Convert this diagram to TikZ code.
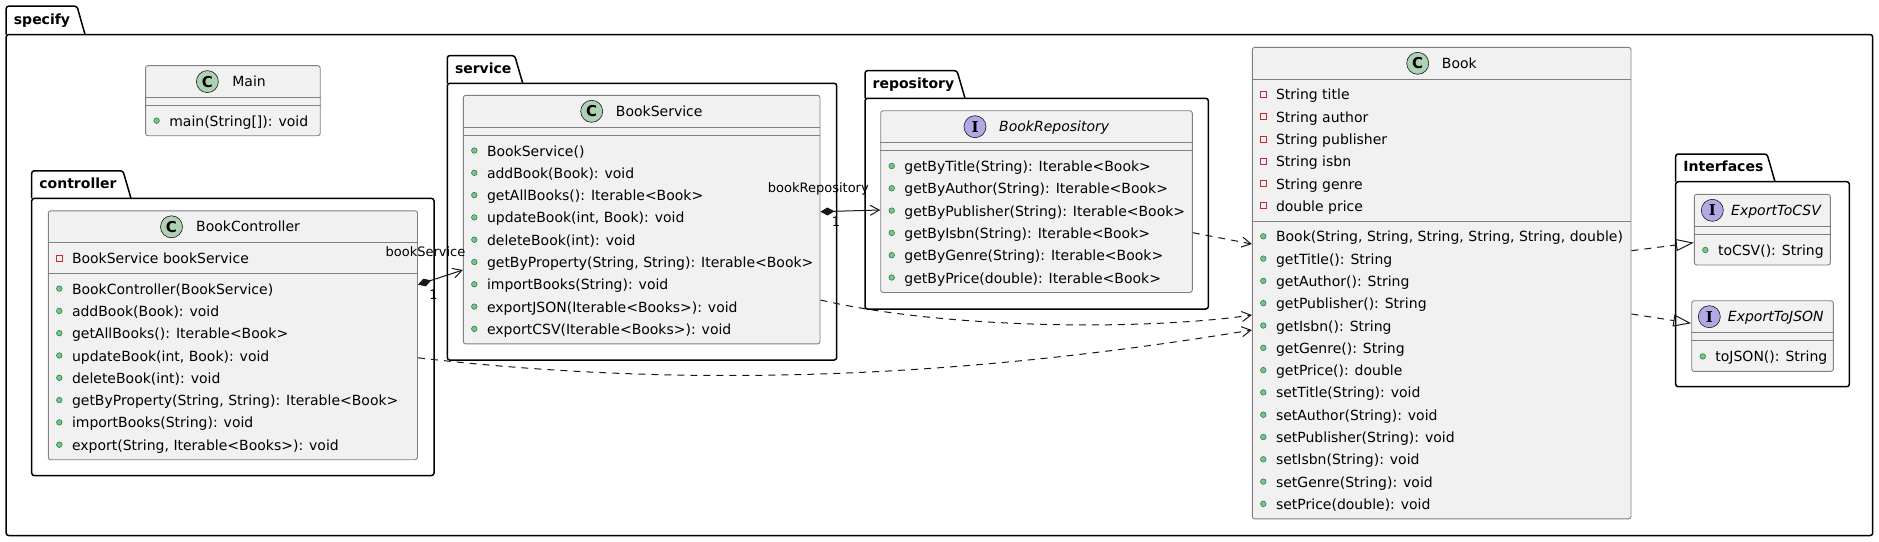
\documentclass[tikz,border=0pt]{standalone}
\usepackage{fontspec}
\setmainfont{DejaVu Sans}
\newfontfamily\spotserif{DejaVu Serif}
\usetikzlibrary{arrows.meta}
\definecolor{lc}{HTML}{181818}
\definecolor{cbord}{HTML}{808080}
\definecolor{classfill}{HTML}{F1F1F1}
\definecolor{cgreen}{HTML}{ADD1B2}
\definecolor{ipurple}{HTML}{B4A7E5}
\definecolor{pubfill}{HTML}{84BE84}
\definecolor{publine}{HTML}{038048}
\definecolor{privline}{HTML}{C82930}
\newcommand{\pubrow}[4]{%
  \fill[pubfill, draw=publine, line width=0.5pt] (#2+11,#3) circle (2.8pt);
  \node[member, anchor=base west] (#1) at (#2+23.5,#3+5.5) {#4};}
\newcommand{\privrow}[4]{%
  \draw[privline, line width=0.8pt] (#2+8,#3-3) rectangle (#2+14,#3+3);
  \node[member, anchor=base west] (#1) at (#2+23.5,#3+5.5) {#4};}
\newcommand{\pkgbox}[8]{%
  \draw[pkg] (#2,#4) -- (#2,#3) -- (#5-8,#3) -- (#5,#4);
  \draw[pkg] (#2,#4) rectangle (#6,#7);
  \node[pkgtitle, anchor=base west] (#1) at (#2+7.5,#4-10) {#8};}
\begin{document}
\begin{tikzpicture}[x=1pt,y=-1pt,
  classbox/.style={draw=cbord, fill=classfill, line width=0.9pt, rounded corners=2.5pt, inner sep=0pt},
  sepline/.style={draw=cbord, line width=0.9pt},
  member/.style={font=\fontsize{14}{16}\selectfont, inner sep=0pt, text=black},
  cname/.style={font=\fontsize{14}{16}\selectfont, inner sep=0pt, text=black},
  iname/.style={font=\fontsize{14}{16}\selectfont\itshape, inner sep=0pt, text=black},
  spot/.style={circle, draw=lc, line width=0.6pt, minimum size=22pt, inner sep=0pt, font=\fontsize{15}{15}\selectfont\bfseries},
  ispot/.style={spot, fill=ipurple, font=\fontsize{15}{15}\selectfont\spotserif\bfseries},
  pkg/.style={draw=black, line width=1.5pt, rounded corners=2.5pt},
  pkgtitle/.style={font=\fontsize{14}{16}\selectfont\bfseries, inner sep=0pt},
  rel/.style={draw=lc, line width=1pt},
  comp/.style={rel, {Diamond[length=14pt,width=8pt]}-{Straight Barb[length=9pt,width=10pt]}},
  dep/.style={rel, dash pattern=on 7pt off 6pt, -{Straight Barb[length=9pt,width=10pt]}},
  real/.style={rel, dash pattern=on 7pt off 6pt, -{Triangle[open,length=18pt,width=12pt]}},
  lbl/.style={font=\fontsize{13}{15}\selectfont, inner sep=0pt}
]
\useasboundingbox (0,0) rectangle (1879,541);
\fill[white] (0,0) rectangle (1879,541);

% packages
\pkgbox{pspecify}{6.2}{6.2}{34.5}{85}{1872.7}{535.5}{specify}
\pkgbox{pcontroller}{31.7}{170.8}{198.4}{131}{434}{475.5}{controller}
\pkgbox{pservice}{447.3}{55.6}{83.3}{522.7}{836.7}{360}{service}
\pkgbox{prepository}{865}{70.7}{98.3}{965}{1208.3}{309}{repository}
\pkgbox{pinterfaces}{1675.7}{154}{181.7}{1775}{1849.3}{386.7}{Interfaces}

% Main
\node[classbox, minimum width=174.6pt, minimum height=70.1pt] (main) at (232.9,100.65) {};
\draw[sepline] (main.west |- 0,97.6) -- (main.east |- 0,97.6);
\draw[sepline] (main.west |- 0,105.6) -- (main.east |- 0,105.6);
\node[spot, fill=cgreen] (mainC) at (207.4,81.6) {C};
\node[cname, anchor=base west] (mainN) at (232.2,86.6) {Main};
\pubrow{mainm0}{145.6}{120.7}{main(String[]): void}

% BookController
\node[classbox, minimum width=369.2pt, minimum height=248.9pt] (bc) at (232.9,335.25) {};
\draw[sepline] (bc.west |- 0,242.8) -- (bc.east |- 0,242.8);
\draw[sepline] (bc.west |- 0,273.6) -- (bc.east |- 0,273.6);
\node[spot, fill=cgreen] (bcC) at (171.5,226.8) {C};
\node[cname, anchor=base west] (bcN) at (196,231.8) {BookController};
\privrow{bca0}{48.3}{258.2}{BookService bookService}
\foreach \t [count=\i from 0] in {{BookController(BookService)},{addBook(Book): void},{getAllBooks(): Iterable<Book>},{updateBook(int, Book): void},{deleteBook(int): void},{getByProperty(String, String): Iterable<Book>},{importBooks(String): void},{export(String, Iterable<Books>): void}}
  {\pubrow{bcm\i}{48.3}{288.6+\i*22.3}{\t}}

% BookService
\node[classbox, minimum width=356.7pt, minimum height=248.6pt] (bs) at (641.65,219.6) {};
\draw[sepline] (bs.west |- 0,127.3) -- (bs.east |- 0,127.3);
\draw[sepline] (bs.west |- 0,135.3) -- (bs.east |- 0,135.3);
\node[spot, fill=cgreen] (bsC) at (591.7,111.3) {C};
\node[cname, anchor=base west] (bsN) at (615.7,116.3) {BookService};
\foreach \t [count=\i from 0] in {{BookService()},{addBook(Book): void},{getAllBooks(): Iterable<Book>},{updateBook(int, Book): void},{deleteBook(int): void},{getByProperty(String, String): Iterable<Book>},{importBooks(String): void},{exportJSON(Iterable<Books>): void},{exportCSV(Iterable<Books>): void}}
  {\pubrow{bsm\i}{463.3}{150.5+\i*22.3}{\t}}

% BookRepository
\node[classbox, minimum width=311.6pt, minimum height=181.8pt] (br) at (1036.5,201.6) {};
\draw[sepline] (br.west |- 0,142.7) -- (br.east |- 0,142.7);
\draw[sepline] (br.west |- 0,150.7) -- (br.east |- 0,150.7);
\node[ispot] (brI) at (975,126.7) {I};
\node[iname, anchor=base west] (brN) at (999,131.7) {BookRepository};
\foreach \t [count=\i from 0] in {{getByTitle(String): Iterable<Book>},{getByAuthor(String): Iterable<Book>},{getByPublisher(String): Iterable<Book>},{getByIsbn(String): Iterable<Book>},{getByGenre(String): Iterable<Book>},{getByPrice(double): Iterable<Book>}}
  {\pubrow{brm\i}{880.7}{166+\i*22.3}{\t}}

% Book
\node[classbox, minimum width=378.7pt, minimum height=471.6pt] (book) at (1441.65,283.1) {};
\draw[sepline] (book.west |- 0,79.3) -- (book.east |- 0,79.3);
\draw[sepline] (book.west |- 0,221.2) -- (book.east |- 0,221.2);
\node[spot, fill=cgreen] (bookC) at (1417.7,63.3) {C};
\node[cname, anchor=base west] (bookN) at (1441.7,68.3) {Book};
\foreach \t [count=\i from 0] in {{String title},{String author},{String publisher},{String isbn},{String genre},{double price}}
  {\privrow{booka\i}{1252.3}{94.3+\i*22.3}{\t}}
\foreach \t [count=\i from 0] in {{Book(String, String, String, String, String, double)},{getTitle(): String},{getAuthor(): String},{getPublisher(): String},{getIsbn(): String},{getGenre(): String},{getPrice(): double},{setTitle(String): void},{setAuthor(String): void},{setPublisher(String): void},{setIsbn(String): void},{setGenre(String): void},{setPrice(double): void}}
  {\pubrow{bookm\i}{1252.3}{236.3+\i*22.3}{\t}}

% ExportToCSV
\node[classbox, minimum width=136pt, minimum height=70.7pt] (csv) at (1762.3,229.65) {};
\draw[sepline] (csv.west |- 0,226.3) -- (csv.east |- 0,226.3);
\draw[sepline] (csv.west |- 0,234.3) -- (csv.east |- 0,234.3);
\node[ispot] (csvI) at (1712.3,210.3) {I};
\node[iname, anchor=base west] (csvN) at (1731,215.3) {ExportToCSV};
\pubrow{csvm0}{1694.3}{250}{toCSV(): String}

% ExportToJSON
\node[classbox, minimum width=141.6pt, minimum height=70.7pt] (json) at (1762.5,336.05) {};
\draw[sepline] (json.west |- 0,332.7) -- (json.east |- 0,332.7);
\draw[sepline] (json.west |- 0,340.7) -- (json.east |- 0,340.7);
\node[ispot] (jsonI) at (1709.3,316.7) {I};
\node[iname, anchor=base west] (jsonN) at (1727.7,321.7) {ExportToJSON};
\pubrow{jsonm0}{1691.7}{356.4}{toJSON(): String}

% relations
\draw[comp] (bc.east |- 0,284.7) -- (bs.west |- 0,270);
\draw[comp] (bs.east |- 0,211.7) -- (br.west |- 0,210);
\draw[dep] (br.east |- 0,232.7) -- (book.west |- 0,244);
\draw[dep] (bs.east |- 0,300) .. controls (950,330) and (1150,330) .. (book.west |- 0,315);
\draw[dep] (bc.east |- 0,357.8) .. controls (680,388) and (950,380) .. (book.west |- 0,330);
\draw[real] (book.east |- 0,250.7) -- (csv.west |- 0,242.7);
\draw[real] (book.east |- 0,314) -- (json.west |- 0,323.3);

% labels
\node[lbl, anchor=base] (lbs) at (425.5,256) {bookService};
\node[lbl, anchor=base] (lbs1) at (433.4,299.5) {1};
\node[lbl, anchor=base west] (lbr) at (767.7,192.3) {bookRepository};
\node[lbl, anchor=base] (lbr1) at (836,226) {1};
\end{tikzpicture}
\end{document}
